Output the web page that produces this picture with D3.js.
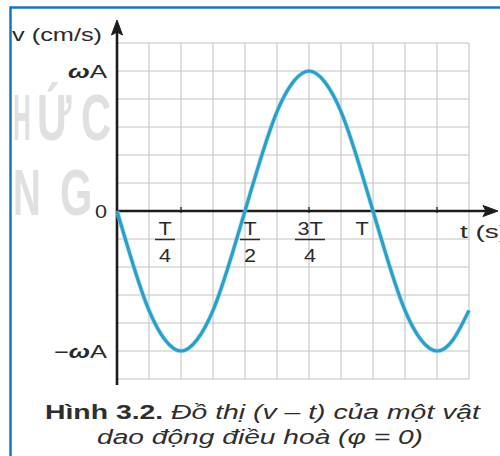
<!DOCTYPE html>
<html>
<head>
<meta charset="utf-8">
<script src="https://cdn.jsdelivr.net/npm/d3@7"></script>
<style>
  html, body { margin: 0; padding: 0; background: #fff; }
  svg { display: block; font-family: "Liberation Sans", Arial, sans-serif; }
</style>
</head>
<body>
<svg id="chart" width="500" height="456"></svg>
<script>
// Time in units of the period T, velocity in units of ωA (φ = 0, v = −ωA·sin ωt)
const timePoints = [0, 1/16, 2/16, 3/16, 4/16, 5/16, 6/16, 7/16, 8/16, 9/16, 10/16, 11/16,
  12/16, 13/16, 14/16, 15/16, 16/16, 17/16, 18/16, 19/16, 20/16, 21/16, 22/16];
const velocity = [0, -0.38, -0.71, -0.92, -1, -0.92, -0.71, -0.38, 0, 0.38, 0.71, 0.92,
  1, 0.92, 0.71, 0.38, 0, -0.38, -0.71, -0.92, -1, -0.92, -0.71];

// Axis tick marks and their labels
const xTickValues = [0.25, 0.5, 0.75, 1, 1.25];
const xTickLabels = [
  { t: 0.25, num: "T", den: "4" },
  { t: 0.5, num: "T", den: "2" },
  { t: 0.75, num: "3T", den: "4" },
  { t: 1, num: "T", den: null }
];
const yTickLabels = [
  { v: 1, text: "ωA" },
  { v: 0, text: "0" },
  { v: -1, text: "−ωA" }
];

const svg = d3.select("#chart");
const ink = "#2a2a2a";

// Frame of the figure box
svg.append("line").attr("x1", 10).attr("x2", 500).attr("y1", 7.5).attr("y2", 7.5)
  .attr("stroke", "#1576c6").attr("stroke-width", 2.5);
svg.append("line").attr("x1", 10.5).attr("x2", 10.5).attr("y1", 6.5).attr("y2", 456)
  .attr("stroke", "#1576c6").attr("stroke-width", 2.5);

// Faint publisher lettering behind the plot
const wm = svg.append("g").attr("fill", "#e0e0e0").attr("font-weight", "bold").attr("font-size", 64);
[["H", 13, 140, 0.38], ["Ứ", 37, 140, 0.65], ["C", 81, 140, 0.65], ["N", 13, 215, 0.6], ["G", 60, 215, 0.65]]
  .forEach(([ch, px, py, sx]) => {
    wm.append("text").attr("transform", `translate(${px},${py}) scale(${sx},1)`).text(ch);
  });

const x = d3.scaleLinear().domain([0, 11/8]).range([117, 469]);
const y = d3.scaleLinear().domain([-1, 1]).range([351, 71]);

// Grid: T/8 per column, ωA/5 per row
const grid = svg.append("g").attr("stroke", "#c4c4c4").attr("stroke-width", 1.1);
grid.selectAll("line.v").data(d3.range(0, 12).map(i => i / 8)).join("line")
  .attr("x1", d => x(d)).attr("x2", d => x(d))
  .attr("y1", y(1.2)).attr("y2", y(-1.2));
grid.selectAll("line.h").data(d3.range(-6, 7).map(i => i / 5)).join("line")
  .attr("x1", x(0)).attr("x2", x(11/8))
  .attr("y1", d => y(d)).attr("y2", d => y(d));

// Axes with arrowheads
const ax = svg.append("g").attr("stroke", "#1c1c1c").attr("fill", "#1c1c1c");
ax.append("line").attr("x1", x(0)).attr("x2", 490).attr("y1", y(0)).attr("y2", y(0))
  .attr("stroke-width", 2.6);
ax.append("path").attr("d", `M498,${y(0)} L483,${y(0) - 5.5} L486,${y(0)} L483,${y(0) + 5.5} Z`)
  .attr("stroke-width", 1);
ax.append("line").attr("x1", x(0)).attr("x2", x(0)).attr("y1", 385).attr("y2", 28)
  .attr("stroke-width", 2.6);
ax.append("path").attr("d", `M${x(0)},20 L${x(0) - 5.5},35 L${x(0)},32 L${x(0) + 5.5},35 Z`)
  .attr("stroke-width", 1);
ax.selectAll("line.tick").data(xTickValues).join("line")
  .attr("x1", d => x(d)).attr("x2", d => x(d))
  .attr("y1", y(0) - 4).attr("y2", y(0) + 2).attr("stroke-width", 1.2);

// Velocity curve
const line = d3.line().x((d, i) => x(timePoints[i])).y(d => y(d)).curve(d3.curveNatural);
svg.append("path").datum(velocity).attr("d", line)
  .attr("fill", "none").attr("stroke", "#7fd3ee").attr("stroke-width", 4.6)
  .attr("stroke-opacity", 0.6);
svg.append("path").datum(velocity).attr("d", line)
  .attr("fill", "none").attr("stroke", "#2c9fc8").attr("stroke-width", 3.2);

// Axis texts (the typeface is set wide, so glyphs are stretched horizontally)
const txt = svg.append("g").attr("fill", ink).attr("font-size", 18);
txt.append("text").attr("x", 12).attr("y", 41)
  .attr("textLength", 90).attr("lengthAdjust", "spacingAndGlyphs").text("v (cm/s)");
txt.selectAll("text.yl").data(yTickLabels).join("text")
  .attr("x", 107).attr("y", d => y(d.v) + 7).attr("text-anchor", "end")
  .each(function (d) {
    const s = d3.select(this);
    if (d.text === "0") { s.attr("textLength", 12).attr("lengthAdjust", "spacingAndGlyphs").text("0"); return; }
    s.attr("textLength", d.v > 0 ? 39 : 53).attr("lengthAdjust", "spacingAndGlyphs");
    const parts = d.text.split("ω");
    if (parts[0]) s.append("tspan").text(parts[0]);
    s.append("tspan").attr("font-weight", "bold").attr("font-style", "italic").text("ω");
    s.append("tspan").text(parts[1]);
  });
txt.append("text").attr("x", 460).attr("y", 238)
  .attr("textLength", 48).attr("lengthAdjust", "spacingAndGlyphs").text("t (s)");

// Fraction labels under the time axis, nudged clear of the curve
const labelNudge = [-16, 5, 1, -11];
const fr = txt.selectAll("g.fr").data(xTickLabels).join("g")
  .attr("transform", (d, i) => `translate(${x(d.t) + labelNudge[i]},0)`);
fr.append("text").attr("y", 235).attr("text-anchor", "middle")
  .attr("transform", "scale(1.2,1)").text(d => d.num);
fr.filter(d => d.den).append("line")
  .attr("x1", d => d.num.length > 1 ? -15 : -10).attr("x2", d => d.num.length > 1 ? 15 : 10)
  .attr("y1", 239.5).attr("y2", 239.5).attr("stroke", ink).attr("stroke-width", 1.5);
fr.filter(d => d.den).append("text").attr("y", 262).attr("text-anchor", "middle")
  .attr("transform", "scale(1.2,1)").text(d => d.den);

// Caption
const cap = svg.append("g").attr("fill", "#2e2e2e").attr("font-size", 20);
const c1 = cap.append("text").attr("x", 45).attr("y", 419)
  .attr("textLength", 435).attr("lengthAdjust", "spacingAndGlyphs");
c1.append("tspan").attr("font-weight", "bold").text("Hình 3.2. ");
c1.append("tspan").attr("font-style", "italic").text("Đồ thị (v – t) của một vật");
cap.append("text").attr("x", 97).attr("y", 444).attr("font-style", "italic")
  .attr("textLength", 326).attr("lengthAdjust", "spacingAndGlyphs")
  .text("dao động điều hoà (φ = 0)");
</script>
</body>
</html>
